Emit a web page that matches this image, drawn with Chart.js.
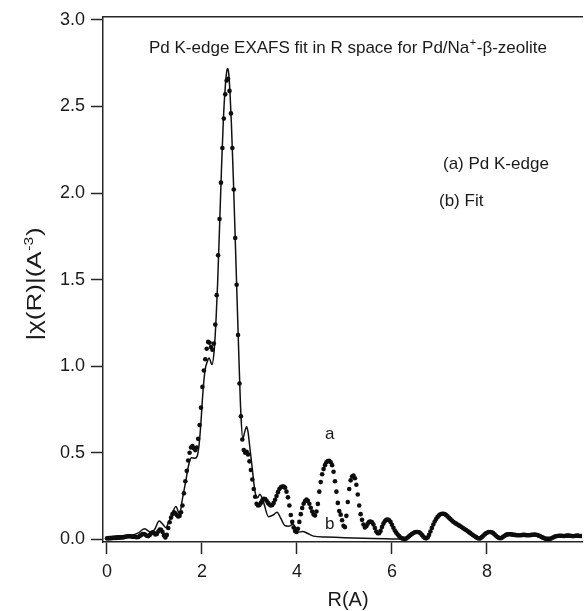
<!DOCTYPE html>
<html>
<head>
<meta charset="utf-8">
<script src="https://cdn.jsdelivr.net/npm/chart.js@4.4.1/dist/chart.umd.min.js"></script>
<style>
  html, body { margin: 0; padding: 0; background: #fff; }
  #c { display: block; }
</style>
</head>
<body>
<canvas id="c" width="586" height="611"></canvas>
<script>
// ---- data ----
const R_STEP = 0.03; // sampling step of the measured |chi(R)| curve (R in A)
const chiData = [
  0.005,0.005,0.006,0.006,0.007,0.007,0.008,0.008,0.009,0.009,
  0.010,0.011,0.012,0.014,0.016,0.017,0.017,0.016,0.015,0.014,
  0.013,0.012,0.013,0.018,0.025,0.030,0.030,0.026,0.020,0.018,
  0.024,0.034,0.040,0.036,0.027,0.030,0.045,0.056,0.055,0.042,
  0.022,0.010,0.025,0.065,0.098,0.125,0.145,0.156,0.150,0.140,
  0.132,0.135,0.156,0.195,0.265,0.335,0.395,0.455,0.500,0.530,
  0.538,0.525,0.515,0.530,0.580,0.660,0.760,0.880,0.975,1.040,
  1.100,1.140,1.135,1.110,1.095,1.130,1.240,1.410,1.640,1.850,
  2.060,2.260,2.430,2.570,2.650,2.660,2.590,2.460,2.260,2.020,
  1.740,1.470,1.180,0.900,0.710,0.576,0.515,0.500,0.505,0.490,
  0.450,0.400,0.345,0.290,0.245,0.205,0.195,0.198,0.210,0.225,
  0.233,0.232,0.222,0.210,0.200,0.195,0.198,0.210,0.228,0.250,
  0.272,0.290,0.300,0.305,0.305,0.298,0.275,0.242,0.195,0.140,
  0.100,0.068,0.048,0.042,0.060,0.100,0.145,0.180,0.205,0.220,
  0.229,0.222,0.205,0.182,0.160,0.143,0.137,0.160,0.204,0.275,
  0.330,0.375,0.405,0.428,0.445,0.452,0.453,0.445,0.428,0.390,
  0.335,0.275,0.210,0.163,0.142,0.110,0.078,0.070,0.135,0.215,
  0.290,0.340,0.362,0.368,0.352,0.315,0.258,0.195,0.145,0.112,
  0.085,0.068,0.075,0.090,0.100,0.102,0.098,0.085,0.065,0.045,
  0.035,0.035,0.048,0.070,0.090,0.104,0.112,0.114,0.110,0.100,
  0.084,0.066,0.050,0.038,0.027,0.018,0.010,0.005,0.003,0.002,
  0.004,0.010,0.017,0.024,0.030,0.036,0.040,0.042,0.042,0.040,
  0.034,0.025,0.015,0.008,0.005,0.010,0.025,0.045,0.065,0.085,
  0.102,0.117,0.129,0.138,0.144,0.147,0.147,0.145,0.140,0.132,
  0.124,0.116,0.108,0.101,0.095,0.090,0.085,0.080,0.075,0.069,
  0.063,0.058,0.053,0.047,0.041,0.035,0.029,0.023,0.017,0.012,
  0.007,0.004,0.005,0.012,0.020,0.028,0.034,0.039,0.042,0.042,
  0.040,0.035,0.028,0.020,0.013,0.008,0.006,0.008,0.014,0.020,
  0.025,0.028,0.029,0.029,0.028,0.026,0.025,0.024,0.023,0.023,
  0.023,0.024,0.025,0.025,0.024,0.023,0.023,0.024,0.025,0.026,
  0.027,0.026,0.024,0.021,0.017,0.013,0.009,0.005,0.003,0.002,
  0.002,0.003,0.006,0.010,0.014,0.017,0.019,0.020,0.020,0.020,
  0.019,0.019,0.020,0.021,0.021,0.020,0.019,0.018,0.019,0.020,
  0.021,0.020,0.019,0.019
];
const fitR = [
  0.00,0.20,0.40,0.55,0.65,0.79,0.93,1.00,1.10,1.18,
  1.24,1.30,1.35,1.45,1.53,1.59,1.66,1.73,1.78,1.85,
  1.90,1.94,1.98,2.01,2.06,2.11,2.15,2.21,2.26,2.30,
  2.33,2.37,2.41,2.45,2.49,2.52,2.54,2.56,2.59,2.62,
  2.66,2.70,2.74,2.78,2.82,2.86,2.90,2.94,2.97,3.00,
  3.05,3.12,3.17,3.22,3.30,3.40,3.50,3.58,3.66,3.74,
  3.82,3.92,4.02,4.12,4.23,4.35,4.60,4.90,5.20,5.60,6.00,6.20
];
const fitChi = [
  0.015,0.018,0.022,0.025,0.035,0.060,0.040,0.055,0.105,0.085,
  0.067,0.100,0.128,0.189,0.147,0.235,0.337,0.440,0.470,0.468,
  0.480,0.547,0.680,0.810,0.967,1.024,1.047,1.009,1.100,1.290,
  1.480,1.800,2.130,2.420,2.610,2.700,2.720,2.700,2.580,2.400,
  2.090,1.740,1.380,1.030,0.720,0.580,0.620,0.650,0.620,0.550,
  0.430,0.270,0.240,0.260,0.210,0.130,0.140,0.156,0.120,0.080,
  0.075,0.086,0.040,0.045,0.033,0.018,0.013,0.010,0.007,0.004,0.002,0.001
];
const xTicks = [0, 2, 4, 6, 8];
const yTicks = [0.0, 0.5, 1.0, 1.5, 2.0, 2.5, 3.0];
const titleText = ["Pd K-edge EXAFS fit in R space for Pd/Na", "+", "-\u03B2-zeolite"];
const legendA = "(a) Pd K-edge";
const legendB = "(b) Fit";
const labelA = { text: "a", x: 4.69, y: 0.578 };
const labelB = { text: "b", x: 4.69, y: 0.059 };
const xTitle = "R(A)";
const yTitle = ["|\u03C7(R)|(A", "-3", ")"];

// ---- drawing ----
const FONT = "'Liberation Sans', Arial, sans-serif";
const INK = "#1a1a1a";
const AXIS = "#262626";

function drawSupText(ctx, parts, x, y, size, align) {
  ctx.font = size + "px " + FONT;
  const w0 = ctx.measureText(parts[0]).width;
  const w2 = ctx.measureText(parts[2]).width;
  ctx.font = Math.round(size * 0.62) + "px " + FONT;
  const w1 = ctx.measureText(parts[1]).width;
  const total = w0 + w1 + w2 + 1;
  const sx = align === "center" ? x - total / 2 : x;
  ctx.textAlign = "left";
  ctx.textBaseline = "alphabetic";
  ctx.font = size + "px " + FONT;
  ctx.fillText(parts[0], sx, y);
  ctx.font = Math.round(size * 0.62) + "px " + FONT;
  ctx.fillText(parts[1], sx + w0 + 0.5, y - size * 0.42);
  ctx.font = size + "px " + FONT;
  ctx.fillText(parts[2], sx + w0 + w1 + 1, y);
}

const textPlugin = {
  id: "texts",
  afterDraw(chart) {
    const ctx = chart.ctx;
    const xs = chart.scales.x, ys = chart.scales.y;
    ctx.save();
    ctx.fillStyle = INK;
    drawSupText(ctx, titleText, 149, 53, 17, "left");
    ctx.font = "17px " + FONT;
    ctx.textAlign = "left";
    ctx.textBaseline = "alphabetic";
    ctx.fillText(legendA, 443, 169);
    ctx.fillText(legendB, 439, 206);
    ctx.textAlign = "center";
    ctx.fillText(labelA.text, xs.getPixelForValue(labelA.x), ys.getPixelForValue(labelA.y));
    ctx.fillText(labelB.text, xs.getPixelForValue(labelB.x), ys.getPixelForValue(labelB.y));
    ctx.font = "20px " + FONT;
    ctx.fillText(xTitle, 348, 606);
    ctx.translate(41, 284);
    ctx.rotate(-Math.PI / 2);
    ctx.scale(1.3, 1);
    drawSupText(ctx, yTitle, 0, 0, 20, "center");
    ctx.restore();
  }
};

const dataPts = chiData.map((v, i) => ({ x: +(i * R_STEP).toFixed(3), y: v }));
const fitPts = fitR.map((r, i) => ({ x: r, y: fitChi[i] }));

new Chart(document.getElementById("c"), {
  type: "scatter",
  data: {
    datasets: [
      {
        label: "(b) Fit",
        data: fitPts,
        showLine: true,
        borderColor: "#111",
        borderWidth: 1.5,
        pointRadius: 0,
        cubicInterpolationMode: "monotone",
        fill: false,
        order: 2
      },
      {
        label: "(a) Pd K-edge",
        data: dataPts,
        showLine: false,
        pointRadius: 2.3,
        pointBorderWidth: 0,
        pointBackgroundColor: "#0d0d0d",
        pointBorderColor: "#0d0d0d",
        order: 1
      }
    ]
  },
  options: {
    responsive: false,
    animation: false,
    devicePixelRatio: 1,
    layout: { padding: 0 },
    plugins: {
      legend: { display: false },
      tooltip: { enabled: false },
      title: { display: false }
    },
    scales: {
      x: {
        type: "linear",
        position: "bottom",
        min: -0.083,
        max: 10.0,
        afterBuildTicks(scale) { scale.ticks = xTicks.map(v => ({ value: v })); },
        afterFit(scale) { scale.height = 69; },
        ticks: {
          font: { size: 18, family: FONT },
          color: INK,
          padding: 7,
          maxRotation: 0,
          callback: v => String(v)
        },
        grid: {
          display: true,
          drawOnChartArea: false,
          drawTicks: true,
          tickLength: 12,
          tickColor: AXIS,
          tickWidth: 1.5
        },
        border: { display: true, color: AXIS, width: 1.5 }
      },
      xTop: {
        type: "linear",
        position: "top",
        min: -0.083,
        max: 10.0,
        afterFit(scale) { scale.height = 14; },
        ticks: { display: false },
        grid: { display: false },
        border: { display: true, color: AXIS, width: 1.5 }
      },
      y: {
        type: "linear",
        position: "left",
        min: -0.016,
        max: 3.018,
        afterBuildTicks(scale) { scale.ticks = yTicks.map(v => ({ value: v })); },
        afterFit(scale) { scale.width = 103; },
        ticks: {
          font: { size: 18, family: FONT },
          color: INK,
          padding: 6,
          callback: v => Number(v).toFixed(1)
        },
        grid: {
          display: true,
          drawOnChartArea: false,
          drawTicks: true,
          tickLength: 12,
          tickColor: AXIS,
          tickWidth: 1.5
        },
        border: { display: true, color: AXIS, width: 1.5 }
      }
    }
  },
  plugins: [textPlugin]
});
</script>
</body>
</html>
